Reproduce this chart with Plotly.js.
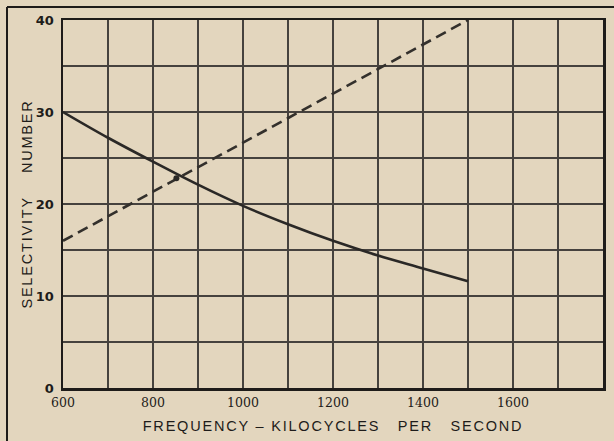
<!DOCTYPE html>
<html>
<head>
<meta charset="utf-8">
<script src="https://cdn.plot.ly/plotly-3.0.1.min.js"></script>
<style>
html,body{margin:0;padding:0;background:#e3d6be;}
#chart{width:614px;height:441px;}
.xtitle,.ytitle{letter-spacing:1.8px;}
</style>
</head>
<body>
<div id="chart"></div>
<script>
// Frequency (kc/s) sample points for the solid curve
const solidFreq = [600, 700, 800, 900, 1000, 1100, 1200, 1300, 1400, 1500];
const solidSel  = [30.0, 27.2, 24.6, 22.1, 19.8, 17.8, 16.0, 14.4, 13.0, 11.6];
// Dashed straight line
const dashFreq = [600, 1500];
const dashSel  = [16.0, 40.0];
// Intersection point
const crossFreq = [852];
const crossSel  = [22.8];
// Axis ticks
const xTickVals = [600, 700, 800, 900, 1000, 1100, 1200, 1300, 1400, 1500, 1600, 1700, 1800];
const xTickText = ["600", "", "800", "", "1000", "", "1200", "", "1400", "", "1600", "", ""];
const yTickVals = [0, 5, 10, 15, 20, 25, 30, 35, 40];
const yTickText = ["0", "", "10", "", "20", "", "30", "", "40"];

const ink = '#2a2826';
const traces = [
  {x: solidFreq, y: solidSel, mode: 'lines', line: {color: ink, width: 2.6, shape: 'spline', smoothing: 1}, hoverinfo: 'skip'},
  {x: dashFreq, y: dashSel, mode: 'lines', line: {color: '#33302c', width: 2.6, dash: '11px,6px'}, hoverinfo: 'skip'},
  {x: crossFreq, y: crossSel, mode: 'markers', marker: {color: ink, size: 6}, hoverinfo: 'skip'}
];

const layout = {
  width: 614, height: 441,
  margin: {l: 63, r: 11, t: 20, b: 53},
  paper_bgcolor: '#e3d6be',
  plot_bgcolor: '#e3d6be',
  showlegend: false,
  font: {family: 'DejaVu Serif, serif', color: '#1e1c1a', size: 13},
  xaxis: {
    range: [600, 1800], tickvals: xTickVals, ticktext: xTickText,
    showgrid: true, gridcolor: '#46423e', gridwidth: 2,
    showline: true, linecolor: '#1e1c1a', linewidth: 2.5, mirror: true,
    zeroline: false, ticks: '', ticklabelstandoff: 1,
    tickfont: {family: 'DejaVu Serif, serif', size: 12.5, color: '#1e1c1a'},
    title: {text: 'FREQUENCY \u2013 KILOCYCLES   PER   SECOND', standoff: 13,
            font: {family: 'Liberation Sans, Arial, sans-serif', size: 14.5, color: '#1e1c1a'}}
  },
  yaxis: {
    range: [0, 40], tickvals: yTickVals, ticktext: yTickText,
    showgrid: true, gridcolor: '#46423e', gridwidth: 2,
    showline: true, linecolor: '#1e1c1a', linewidth: 2.5, mirror: true,
    zeroline: false, ticks: '', ticklabelstandoff: 4,
    tickfont: {family: 'DejaVu Sans, sans-serif', size: 13, color: '#1e1c1a', weight: 'bold'},
    title: {text: 'SELECTIVITY    NUMBER', standoff: 0,
            font: {family: 'Liberation Sans, Arial, sans-serif', size: 14.5, color: '#1e1c1a'}}
  },
  shapes: [
    {type: 'line', xref: 'paper', yref: 'paper', x0: -0.1037, x1: -0.1037, y0: -0.2, y1: 1.0353,
     line: {color: '#1e1c1a', width: 2}},
    {type: 'line', xref: 'paper', yref: 'paper', x0: -0.1037, x1: 1.03, y0: 1.0353, y1: 1.0353,
     line: {color: '#1e1c1a', width: 2}}
  ]
};

Plotly.newPlot('chart', traces, layout, {staticPlot: true, displayModeBar: false});
</script>
</body>
</html>
